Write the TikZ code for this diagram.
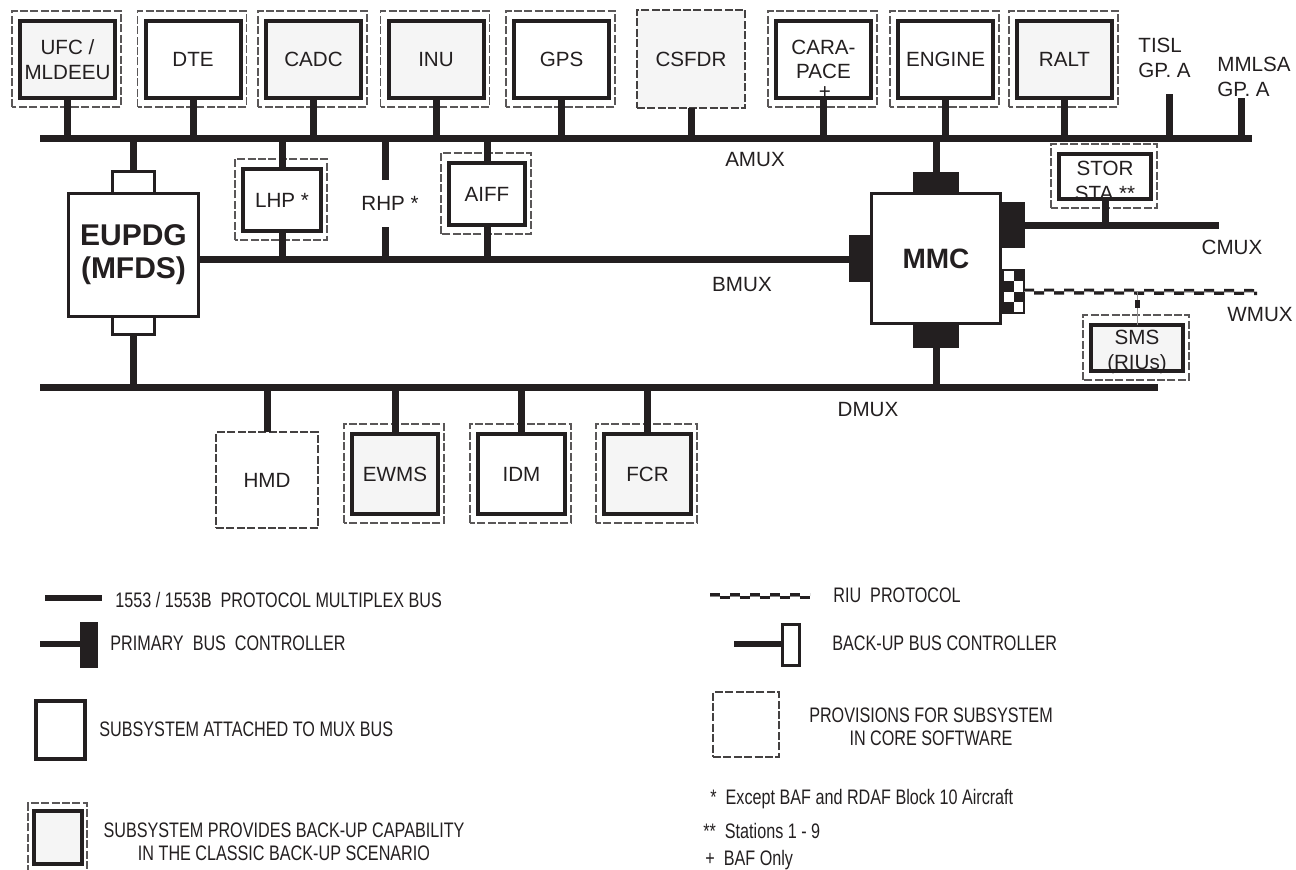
\documentclass[tikz,border=0pt]{standalone}
\usepackage{fontspec}
\setmainfont{Liberation Sans}
\newfontfamily\narrowfont[FakeStretch=0.77]{Liberation Sans}
\usepackage{tikz}
\usetikzlibrary{positioning}
\definecolor{ink}{HTML}{231F20}
\definecolor{paper}{HTML}{F5F5F5}
\tikzset{
    lbl/.style={font=\fontsize{10.3}{12.3}\selectfont, text=ink, align=center, inner sep=0pt},
    key/.style={font=\narrowfont\fontsize{10.5}{11.5}\selectfont, text=ink, align=center, inner sep=0pt},
    subbox/.style={lbl, draw=ink, line width=2pt, fill=white, minimum width=47.5pt, minimum height=38.5pt, outer sep=0pt},
    provbox/.style={lbl, draw=ink!85, line width=0.7pt, dash pattern=on 4pt off 1.2pt, fill=white, outer sep=0pt},
    frame/.style={draw=ink!75, line width=0.7pt, dash pattern=on 4pt off 1.2pt},
    bus/.style={draw=ink, line width=3.5pt},
    pbc/.style={fill=ink, inner sep=0pt, outer sep=0pt},
    bbc/.style={draw=ink, line width=1.5pt, fill=white, inner sep=0pt, outer sep=0pt},
    riu/.style={draw=ink!55, line width=0.4pt,
        preaction={draw=ink, line width=1.6pt, dash pattern=on 5pt off 5pt, transform canvas={yshift=0.7pt}},
        postaction={draw=ink, line width=1.6pt, dash pattern=on 5pt off 5pt, dash phase=5pt, transform canvas={yshift=-0.7pt}}}
}
\begin{document}
\begin{tikzpicture}[x=0.5pt, y=-0.5pt]
    \useasboundingbox (0,0) rectangle (1296,869);

    % Bus end points
    \coordinate (amuxW) at (40,138.5);
    \coordinate (amuxE) at (1252,138.5);
    \coordinate (bmuxW) at (200,259.5);
    \coordinate (cmuxE) at (1219,225);
    \coordinate (wmuxE) at (1257,292);
    \coordinate (dmuxW) at (40,387);
    \coordinate (dmuxE) at (1158,387);

    % Top row of subsystems on AMUX
    \node[subbox, fill=paper] (ufc) at (67.5,59.5) {UFC /\\MLDEEU};
    \node[subbox] (dte) at (193,59.5) {DTE};
    \node[subbox, fill=paper] (cadc) at (313.5,59.5) {CADC};
    \node[subbox, fill=paper] (inu) at (436,59.5) {INU};
    \node[subbox] (gps) at (561.5,59.5) {GPS};
    \node[provbox, fill=paper, minimum width=54pt, minimum height=49pt] (csfdr) at (691,59) {CSFDR};
    \node[subbox] (cara) at (823.5,59.5) {CARA-\\PACE};
    \node[lbl] (caraNote) at (825,93) {+};
    \node[subbox] (engine) at (945.5,59.5) {ENGINE};
    \node[subbox, fill=paper] (ralt) at (1064.5,59.5) {RALT};
    \node[lbl, align=left, anchor=west] (tisl) at (1138,58) {TISL\\GP. A};
    \node[lbl, align=left, anchor=west] (mmlsa) at (1217,77) {MMLSA\\GP. A};
    \coordinate (tislT) at (1169,94);
    \coordinate (mmlsaT) at (1241,98);

    % Processors
    \node[lbl, draw=ink, line width=1.5pt, fill=white, outer sep=0pt, minimum width=65pt, minimum height=61.5pt,
          font=\fontsize{15}{16.5}\selectfont\bfseries] (eupdg) at (133.5,255) {EUPDG\\(MFDS)};
    \node[bbc, minimum width=21pt, minimum height=11pt, above=0pt of eupdg] (eupdgA) {};
    \node[bbc, minimum width=21pt, minimum height=9pt, below=0pt of eupdg] (eupdgD) {};

    \node[lbl, draw=ink, line width=1.5pt, fill=white, outer sep=0pt, minimum width=64.5pt, minimum height=65pt,
          font=\fontsize{14}{16}\selectfont\bfseries] (mmc) at (936,258.5) {MMC};
    \node[pbc, minimum width=23pt, minimum height=11pt, above=0pt of mmc] (mmcA) {};
    \node[pbc, minimum width=11.5pt, minimum height=23.5pt, left=0pt of mmc] (mmcB) {};
    \node[pbc, minimum width=11.5pt, minimum height=23pt] (mmcC) at (1013.5,225) {};
    \node[pbc, minimum width=23pt, minimum height=12pt, below=0pt of mmc] (mmcD) {};
    \node[draw=ink, line width=1pt, fill=white, inner sep=0pt, outer sep=0pt, minimum width=10.5pt, minimum height=21.5pt] (mmcW) at (1013.5,291.5) {};
    \foreach \c/\r in {1/0,0/1,1/2,0/3}
        \fill[ink] ([shift={(\c*10.5,\r*10.75)}]mmcW.north west) rectangle +(10.5,10.75);

    % Between AMUX and BMUX
    \node[subbox, minimum width=39pt, minimum height=31pt] (lhp) at (282,200) {LHP *};
    \node[lbl] (rhp) at (390,203) {RHP *};
    \coordinate (rhpA) at (385,180);
    \coordinate (rhpB) at (385,227);
    \node[subbox, minimum width=38pt, minimum height=31pt] (aiff) at (487,194) {AIFF};

    % CMUX and WMUX subsystems
    \node[subbox, minimum width=46pt, minimum height=22.5pt] (stor) at (1105,176.5) {};
    \node[lbl] (storText) at (1105,181) {STOR\\STA **};
    \node[subbox, fill=paper, minimum width=46pt, minimum height=23pt] (sms) at (1137,348) {};
    \node[lbl] (smsText) at (1137,352) {SMS\\(RIUs)};

    % Bottom row on DMUX
    \node[provbox, minimum width=51pt, minimum height=48pt] (hmd) at (267,480) {HMD};
    \node[subbox, fill=paper, minimum width=43pt, minimum height=40pt] (ewms) at (395,474) {EWMS};
    \node[subbox, minimum width=43.5pt, minimum height=40pt] (idm) at (521.5,474) {IDM};
    \node[subbox, fill=paper, minimum width=43.5pt, minimum height=40pt] (fcr) at (647.5,474) {FCR};

    % Back-up frames
    \foreach \n in {ufc,dte,cadc,inu,gps,cara,engine,ralt,lhp,aiff,stor,sms,ewms,idm,fcr}
        \draw[frame] ([shift={(-8,9)}]\n.south west) rectangle ([shift={(6,-10)}]\n.north east);

    % Buses
    \draw[bus] (amuxW) -- (amuxE);
    \draw[bus] (bmuxW) -- (bmuxW -| mmcB.west);
    \draw[bus] (mmcC.east) -- (cmuxE);
    \draw[riu] (mmcW.east) -- (wmuxE);
    \draw[bus] (dmuxW) -- (dmuxE);

    % Stubs
    \foreach \n in {ufc,dte,cadc,inu,gps,csfdr,cara,engine,ralt}
        \draw[bus] (\n.south) -- (\n.south |- amuxW);
    \draw[bus] (tislT) -- (tislT |- amuxW);
    \draw[bus] (mmlsaT) -- (mmlsaT |- amuxW);
    \draw[bus] (eupdgA.north) -- (eupdgA.north |- amuxW);
    \draw[bus] (mmcA.north) -- (mmcA.north |- amuxW);
    \draw[bus] (lhp.north) -- (lhp.north |- amuxW);
    \draw[bus] (lhp.south) -- (lhp.south |- bmuxW);
    \draw[bus] (rhpA) -- (rhpA |- amuxW);
    \draw[bus] (rhpB) -- (rhpB |- bmuxW);
    \draw[bus] (aiff.north) -- (aiff.north |- amuxW);
    \draw[bus] (aiff.south) -- (aiff.south |- bmuxW);
    \draw[bus] (stor.south) -- (stor.south |- cmuxE);
    \draw[ink!50, line width=0.3pt] (sms.north) -- (sms.north |- wmuxE);
    \node[pbc, minimum width=2.5pt, minimum height=4pt] (smsTap) at (1137,304) {};
    \draw[bus] (eupdgD.south) -- (eupdgD.south |- dmuxW);
    \draw[bus] (mmcD.south) -- (mmcD.south |- dmuxW);
    \foreach \n in {hmd,ewms,idm,fcr}
        \draw[bus] (\n.north) -- (\n.north |- dmuxW);

    % Bus names
    \node[lbl] (amuxL) at (755,160) {AMUX};
    \node[lbl] (bmuxL) at (742,285) {BMUX};
    \node[lbl] (cmuxL) at (1232,247) {CMUX};
    \node[lbl] (wmuxL) at (1260,315) {WMUX};
    \node[lbl] (dmuxL) at (868,410) {DMUX};

    % Legend, left
    \coordinate (keyBusA) at (45,598);
    \coordinate (keyBusB) at (102,598);
    \draw[bus, line width=3pt] (keyBusA) -- (keyBusB);
    \node[key, anchor=west] (keyBus) at (115,600) {1553 / 1553B\ \ PROTOCOL MULTIPLEX BUS};

    \node[pbc, minimum width=9pt, minimum height=23pt] (keyPbc) at (89,645) {};
    \coordinate (keyPbcL) at (40,644);
    \draw[bus, line width=3pt] (keyPbcL) -- (keyPbcL -| keyPbc.west);
    \node[key, anchor=west] (keyPbcT) at (110,643) {PRIMARY\ \ BUS\ \ CONTROLLER};

    \node[subbox, minimum width=24.5pt, minimum height=29pt] (keySub) at (60.5,730) {};
    \node[key, anchor=west] (keySubT) at (99,729) {SUBSYSTEM ATTACHED TO MUX BUS};

    \node[subbox, fill=paper, minimum width=24pt, minimum height=26.5pt] (keyBack) at (58,837.5) {};
    \draw[frame] ([shift={(-6,9)}]keyBack.south west) rectangle ([shift={(5,-8)}]keyBack.north east);
    \node[key] (keyBackT) at (284,842) {SUBSYSTEM PROVIDES BACK-UP CAPABILITY\\IN THE CLASSIC BACK-UP SCENARIO};

    % Legend, right
    \coordinate (keyRiuA) at (710,596);
    \coordinate (keyRiuB) at (810,596);
    \draw[riu] (keyRiuA) -- (keyRiuB);
    \node[key, anchor=west] (keyRiuT) at (833,595) {RIU\ \ PROTOCOL};

    \node[bbc, minimum width=8.5pt, minimum height=20.5pt] (keyBbc) at (791,645) {};
    \coordinate (keyBbcL) at (734,644);
    \draw[bus, line width=3pt] (keyBbcL) -- (keyBbcL -| keyBbc.west);
    \node[key, anchor=west] (keyBbcT) at (832,643) {BACK-UP BUS CONTROLLER};

    \node[provbox, minimum width=33pt, minimum height=32.5pt] (keyProv) at (746,724.5) {};
    \node[key] (keyProvT) at (931,726.5) {PROVISIONS FOR SUBSYSTEM\\IN CORE SOFTWARE};

    % Footnotes
    \node[key, anchor=west] (noteA) at (710,799) {*\ \ Except BAF and RDAF Block 10 Aircraft};
    \node[key, anchor=west] (noteB) at (703,831) {**\ \ Stations 1 - 9};
    \node[key, anchor=west] (noteC) at (705,860) {+\ \ BAF Only};
\end{tikzpicture}
\end{document}
